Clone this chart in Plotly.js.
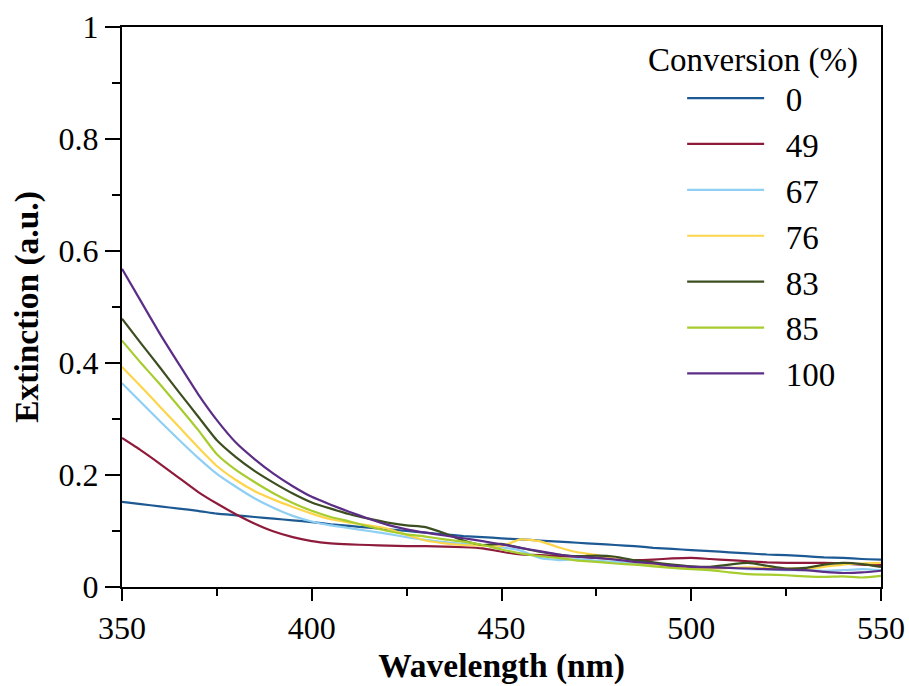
<!DOCTYPE html>
<html>
<head>
<meta charset="utf-8">
<script src="https://cdn.plot.ly/plotly-3.0.1.min.js"></script>
<style>html,body{margin:0;padding:0;background:#fff;}#chart{width:909px;height:686px;}</style>
</head>
<body>
<div id="chart"></div>
<script>
const wavelength = [350,355,360,365,370,375,380,385,390,395,400,405,410,415,420,425,430,435,440,445,450,455,460,465,470,475,480,485,490,495,500,505,510,515,520,525,530,535,540,545,550];

const conv0   = [0.152,0.148,0.144,0.140,0.136,0.131,0.128,0.125,0.122,0.119,0.116,0.112,0.109,0.106,0.103,0.100,0.097,0.094,0.091,0.089,0.087,0.085,0.083,0.081,0.079,0.077,0.075,0.073,0.070,0.068,0.066,0.064,0.062,0.060,0.058,0.057,0.055,0.053,0.052,0.050,0.049];
const conv49  = [0.266,0.244,0.220,0.195,0.170,0.149,0.130,0.113,0.099,0.089,0.082,0.078,0.076,0.075,0.074,0.073,0.073,0.072,0.071,0.069,0.063,0.058,0.057,0.055,0.054,0.052,0.050,0.048,0.049,0.051,0.052,0.050,0.048,0.046,0.044,0.043,0.043,0.043,0.042,0.040,0.039];
const conv67  = [0.364,0.330,0.296,0.263,0.231,0.202,0.179,0.158,0.141,0.127,0.117,0.110,0.105,0.100,0.095,0.089,0.084,0.080,0.077,0.075,0.071,0.065,0.052,0.048,0.050,0.047,0.045,0.042,0.040,0.036,0.034,0.033,0.034,0.032,0.031,0.030,0.030,0.029,0.030,0.032,0.030];
const conv76  = [0.393,0.358,0.322,0.286,0.250,0.216,0.191,0.171,0.156,0.143,0.131,0.121,0.115,0.110,0.104,0.093,0.083,0.078,0.075,0.074,0.073,0.085,0.082,0.071,0.062,0.057,0.050,0.045,0.040,0.036,0.034,0.033,0.034,0.035,0.034,0.033,0.033,0.036,0.040,0.042,0.043];
const conv83  = [0.479,0.435,0.392,0.348,0.305,0.262,0.232,0.207,0.186,0.167,0.151,0.140,0.130,0.122,0.115,0.110,0.107,0.096,0.083,0.075,0.077,0.070,0.063,0.058,0.055,0.056,0.054,0.048,0.044,0.040,0.037,0.036,0.040,0.043,0.038,0.033,0.034,0.040,0.043,0.041,0.036];
const conv85  = [0.440,0.400,0.362,0.322,0.281,0.237,0.209,0.187,0.167,0.150,0.136,0.125,0.117,0.108,0.100,0.094,0.090,0.085,0.081,0.075,0.067,0.060,0.055,0.052,0.047,0.045,0.042,0.040,0.037,0.034,0.032,0.030,0.026,0.023,0.022,0.021,0.019,0.018,0.019,0.017,0.020];
const conv100 = [0.568,0.510,0.452,0.398,0.345,0.298,0.258,0.228,0.202,0.180,0.161,0.147,0.134,0.122,0.111,0.103,0.097,0.092,0.087,0.082,0.076,0.070,0.064,0.058,0.054,0.052,0.049,0.045,0.042,0.038,0.036,0.035,0.034,0.033,0.032,0.031,0.030,0.027,0.025,0.026,0.029];

const seriesNames  = ['0','49','67','76','83','85','100'];
const seriesValues = [conv0, conv49, conv67, conv76, conv83, conv85, conv100];
const seriesColors = ['#1D5A94','#8E1B3B','#8FCFF3','#FDD54B','#3D4F21','#A6CC2E','#5C2D86'];

const traces = seriesNames.map((n, i) => ({
  x: wavelength,
  y: seriesValues[i],
  name: '\u2002' + n,
  type: 'scatter',
  mode: 'lines',
  line: {color: seriesColors[i], width: 2.2, shape: 'spline', smoothing: 0.5}
}));

const fontFam = '"Liberation Serif", "Times New Roman", serif';

const layout = {
  width: 909, height: 686,
  margin: {l: 122, r: 28, t: 27, b: 99},
  paper_bgcolor: '#fff', plot_bgcolor: '#fff',
  font: {family: fontFam, size: 32, color: '#000'},
  showlegend: true,
  legend: {
    x: 0.738, xanchor: 'left', y: 0.923, yanchor: 'top',
    font: {family: fontFam, size: 33, color: '#000'},
    bgcolor: 'rgba(0,0,0,0)', borderwidth: 0,
    itemwidth: 77, tracegroupgap: 0
  },
  xaxis: {
    range: [350, 550], dtick: 50, tick0: 350,
    showline: true, linecolor: '#000', linewidth: 2, mirror: true,
    ticks: 'outside', ticklen: 12, tickwidth: 2, tickcolor: '#000',
    minor: {dtick: 25, ticks: 'outside', ticklen: 7, tickwidth: 2, tickcolor: '#000'},
    showgrid: false, zeroline: false,
    tickfont: {family: fontFam, size: 32, color: '#000'},
    title: {text: 'Wavelength (nm)', font: {family: fontFam, size: 33.5, color: '#000', weight: 'bold'}, standoff: 8}
  },
  yaxis: {
    range: [0, 1], dtick: 0.2, tick0: 0,
    showline: true, linecolor: '#000', linewidth: 2, mirror: true,
    ticks: 'outside', ticklen: 15, tickwidth: 2, tickcolor: '#000',
    minor: {dtick: 0.1, ticks: 'outside', ticklen: 8, tickwidth: 2, tickcolor: '#000'},
    showgrid: false, zeroline: false,
    tickfont: {family: fontFam, size: 32, color: '#000'},
    title: {text: 'Extinction (a.u.)', font: {family: fontFam, size: 33.5, color: '#000', weight: 'bold'}, standoff: 10}
  },
  annotations: [{
    xref: 'paper', yref: 'paper', x: 0.831, y: 0.941,
    xanchor: 'center', yanchor: 'middle', showarrow: false,
    text: 'Conversion (%)',
    font: {family: fontFam, size: 33, color: '#000'}
  }]
};

Plotly.newPlot('chart', traces, layout, {displayModeBar: false, staticPlot: true});
</script>
</body>
</html>
